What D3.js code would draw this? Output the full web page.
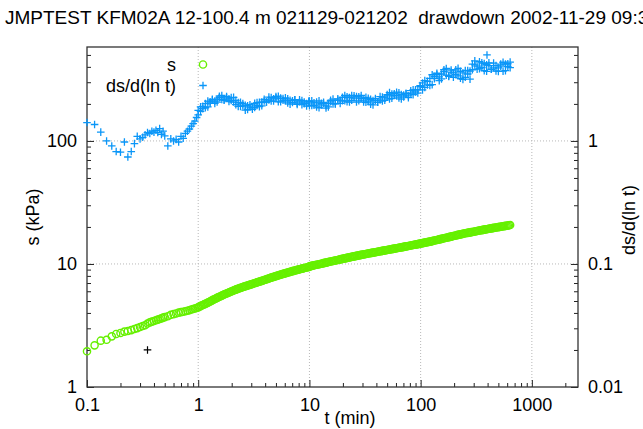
<!DOCTYPE html>
<html><head><meta charset="utf-8">
<script src="https://cdn.jsdelivr.net/npm/d3@7"></script>
<style>
body{margin:0;background:#fff;overflow:hidden;}
svg{display:block;font-family:"Liberation Sans",Arial,Helvetica,sans-serif;}
</style>
</head><body>
<svg id="c" width="643" height="429"></svg>
<script>
// ---- data ----
const titleText = "JMPTEST KFM02A 12-100.4 m 021129-021202  drawdown 2002-11-29 09:30";
const xTicks = [0.1, 1, 10, 100, 1000];
const xTickLabels = ["0.1", "1", "10", "100", "1000"];
const yLeftTicks = [1, 10, 100];
const yLeftTickLabels = ["1", "10", "100"];
const yRightTicks = [0.01, 0.1, 1];
const yRightTickLabels = ["0.01", "0.1", "1"];

// elapsed time, minutes
const tMin = [0.100,0.117,0.133,0.150,0.167,0.183,0.200,0.217,0.233,0.250,0.267,0.283,0.300,0.317,0.333,0.350,0.367,0.383,0.400,0.417,0.433,0.450,0.467,0.483,0.500,0.533,0.567,0.600,0.633,0.667,0.700,0.733,0.767,0.800,0.833,0.867,0.900,0.933,0.967,
1.0,1.05,1.1,1.16,1.22,1.28,1.34,1.41,1.48,1.55,1.63,1.71,1.8,1.89,1.98,2.08,2.18,2.29,2.4,2.52,2.65,2.78,2.92,3.07,3.22,3.38,3.55,3.73,3.92,4.11,4.32,4.53,4.76,5.0,5.25,5.51,5.79,6.08,6.38,6.7,7.04,7.39,7.76,8.15,8.56,8.98,9.43,9.9,
10,10.5,11,11.6,12.2,12.8,13.4,14.1,14.8,15.5,16.3,17.1,18,18.9,19.8,20.8,21.8,22.9,24,25.2,26.5,27.8,29.2,30.7,32.2,33.8,35.5,37.3,39.2,41.1,43.2,45.3,47.6,50,52.5,55.1,57.9,60.8,63.8,67,70.4,73.9,77.6,81.5,85.6,89.8,94.3,99,
104,109,115,121,127,133,140,147,154,162,170,179,188,197,207,217,228,240,252,265,278,292,307,322,338,355,373,392,411,432,453,476,500,525,551,579,608,638];

// drawdown s, kPa (left axis)
const sKPa = [1.95,2.18,2.38,2.42,2.58,2.70,2.75,2.82,2.85,2.90,2.96,3.01,3.07,3.13,3.18,3.28,3.35,3.40,3.44,3.49,3.53,3.57,3.61,3.66,3.70,3.76,3.86,3.91,3.96,4.02,4.06,4.09,4.13,4.17,4.21,4.26,4.30,4.35,4.39,
4.44,4.54,4.64,4.74,4.85,4.96,5.07,5.19,5.30,5.42,5.53,5.65,5.76,5.87,5.98,6.09,6.19,6.29,6.39,6.49,6.59,6.68,6.78,6.88,6.98,7.08,7.18,7.29,7.40,7.51,7.62,7.74,7.85,7.97,8.08,8.19,8.30,8.41,8.52,8.63,8.74,8.84,8.95,9.05,9.16,9.26,9.36,9.46,
9.55,9.65,9.75,9.85,9.95,10.05,10.15,10.25,10.36,10.46,10.57,10.68,10.78,10.89,11.00,11.10,11.21,11.32,11.43,11.53,11.64,11.74,11.85,11.95,12.05,12.16,12.26,12.36,12.46,12.57,12.67,12.78,12.89,12.99,13.10,13.21,13.32,13.43,13.54,13.65,13.77,13.89,14.00,14.12,14.25,14.37,14.50,14.63,
14.76,14.90,15.04,15.19,15.34,15.50,15.66,15.83,16.00,16.17,16.34,16.52,16.69,16.87,17.05,17.22,17.40,17.58,17.76,17.90,18.05,18.21,18.37,18.53,18.69,18.85,19.01,19.17,19.33,19.48,19.63,19.78,19.93,20.08,20.23,20.39,20.55,20.71];

// further readings of the dense s band, at times between those above
const tMinB = [1.02,1.07,1.13,1.19,1.25,1.31,1.37,1.44,1.51,1.59,1.67,1.75,1.84,1.93,2.03,2.13,2.23,2.34,2.46,2.58,2.71,2.85,2.99,3.14,3.30,3.46,3.64,3.82,4.01,4.21,4.42,4.64,4.88,5.12,5.38,5.65,5.93,6.23,6.54,6.87,7.21,7.57,7.95,8.35,8.77,9.20,9.66,
10.2,10.7,11.3,11.9,12.5,13.1,13.7,14.4,15.1,15.9,16.7,17.5,18.4,19.3,20.3,21.3,22.3,23.4,24.6,25.8,27.1,28.5,29.9,31.4,33.0,34.6,36.4,38.2,40.1,42.1,44.2,46.4,48.8,51.2,53.8,56.5,59.3,62.3,65.4,68.7,72.1,75.7,79.5,83.5,87.7,92.0,96.6,
101.5,106.5,112,118,124,130,136.5,143.5,150.5,158,166,174.5,183.5,192.5,202,212,222.5,234,246,258.5,271.5,285,299.5,314.5,330,346.5,364,382.5,401.5,421.5,442.5,464.5,488,512.5,538,565,593.5,623];
const sKPaB = [4.49,4.59,4.69,4.80,4.90,5.01,5.13,5.24,5.36,5.47,5.59,5.70,5.81,5.92,6.03,6.14,6.24,6.34,6.44,6.54,6.63,6.73,6.83,6.93,7.03,7.13,7.23,7.34,7.45,7.56,7.68,7.79,7.91,8.02,8.13,8.24,8.35,8.46,8.57,8.68,8.79,8.89,9.00,9.10,9.21,9.31,9.41,
9.60,9.70,9.80,9.90,10.00,10.10,10.20,10.30,10.41,10.51,10.62,10.73,10.83,10.94,11.05,11.15,11.26,11.37,11.48,11.58,11.69,11.79,11.90,12.00,12.10,12.21,12.31,12.41,12.51,12.62,12.72,12.83,12.94,13.04,13.15,13.26,13.37,13.48,13.59,13.71,13.83,13.94,14.06,14.18,14.31,14.43,14.56,
14.70,14.83,14.97,15.12,15.27,15.42,15.58,15.75,15.92,16.09,16.26,16.43,16.61,16.78,16.96,17.14,17.31,17.49,17.67,17.83,17.98,18.13,18.29,18.45,18.61,18.77,18.93,19.09,19.25,19.41,19.56,19.71,19.86,20.01,20.16,20.31,20.47,20.63];

// derivative ds/d(ln t) (right axis), first reading at each time
const dsdlnt = [1.41,1.36,1.18,1.00,0.91,0.82,0.81,0.98,0.74,0.82,0.95,1.09,1.04,1.07,1.12,1.17,1.15,1.20,1.18,1.22,1.17,1.26,1.13,1.20,1.10,0.91,1.04,1.00,1.03,0.98,1.09,1.05,1.15,1.20,1.25,1.32,1.38,1.45,1.55,
1.77,1.74,1.91,1.86,2.11,2.03,2.15,2.02,2.19,2.31,2.17,2.14,2.29,2.20,2.13,2.26,1.97,2.05,1.91,2.01,1.78,1.93,1.88,1.81,2.02,1.94,2.06,1.93,2.11,2.07,2.27,2.11,2.20,2.29,2.08,2.23,2.14,2.24,2.04,2.14,2.05,2.16,1.98,2.08,2.13,2.01,1.92,2.08,
2.11,1.94,2.04,1.89,2.12,1.96,2.02,1.85,2.02,2.14,2.00,2.00,2.20,2.14,2.12,2.34,2.08,2.25,2.14,2.33,2.07,2.28,2.22,2.07,2.26,2.08,2.18,1.96,2.14,2.06,2.29,2.11,2.24,2.38,2.19,2.41,2.34,2.49,2.24,2.38,2.28,2.43,2.25,2.45,2.60,2.50,2.45,2.77,
2.96,2.72,3.05,2.83,3.45,3.21,3.46,3.09,3.50,3.79,3.42,3.35,3.77,3.57,3.46,3.89,3.23,3.57,3.29,3.73,3.18,4.21,4.15,3.83,4.40,3.94,4.26,3.68,4.10,3.82,4.29,3.70,3.92,4.21,3.69,4.21,4.03,4.37];
// second reading of the dense band, for the times from 1 min on (tMin index 39 onward)
const dsdlntB = [1.63,1.89,1.83,2.01,1.89,2.08,2.18,2.11,2.07,2.25,2.34,2.16,2.24,2.09,2.25,2.07,2.14,1.91,2.06,1.93,1.95,1.80,1.97,1.87,1.87,2.05,1.90,2.07,2.18,2.07,2.15,2.25,2.11,2.24,2.31,2.08,2.21,2.11,2.20,1.99,2.12,2.16,2.03,2.16,1.97,2.07,2.01,2.11,
1.93,2.12,1.95,2.07,1.86,2.02,2.06,1.93,1.89,2.08,2.19,2.01,2.14,2.02,2.26,2.12,2.28,2.07,2.34,2.23,2.29,2.12,2.34,2.15,2.06,2.22,1.99,2.13,2.21,2.06,2.15,2.27,2.14,2.32,2.47,2.22,2.42,2.32,2.46,2.19,2.36,2.43,2.32,2.56,2.38,2.60,2.60,2.82,
2.60,3.09,2.85,3.23,2.87,3.33,3.55,3.31,3.19,3.66,3.88,3.39,3.63,3.29,3.78,3.38,3.68,3.16,3.74,3.50,3.69,3.79,4.47,4.05,3.87,4.31,3.73,4.16,4.31,3.82,3.93,4.10,3.67,4.05,4.36,3.73,4.24,3.94];
const dsOutlierT = [395];
const dsOutlierV = [5.0];

// single black marker
const markT = [0.35];
const markS = [2.0];

// ---- drawing ----
const W = 643, H = 429;
const m = {l: 87, r: 65, t: 47, b: 42};
const x0 = m.l, x1 = W - m.r, y0 = H - m.b, y1 = m.t;
const svg = d3.select("#c");
const green = "#66f000", blue = "#0a96f8";

const x = d3.scaleLog().domain([0.1, 2600]).range([x0, x1]);
const yL = d3.scaleLog().domain([1, 580]).range([y0, y1]);
const yR = d3.scaleLog().domain([0.01, 5.8]).range([y0, y1]);

function minors(lo, hi) {
  const out = [];
  for (let e = Math.floor(Math.log10(lo)); e <= Math.ceil(Math.log10(hi)); e++) {
    for (let k = 2; k <= 9; k++) { const v = k * Math.pow(10, e); if (v > lo && v < hi) out.push(v); }
  }
  return out;
}

// title
svg.append("text").attr("x", 5).attr("y", 24).attr("font-size", 19).attr("fill", "#000")
  .style("white-space", "pre").attr("xml:space", "preserve").text(titleText);

// grid
const grid = svg.append("g").attr("stroke", "#b8b8b8").attr("stroke-width", 1).attr("stroke-dasharray", "1,2");
xTicks.filter(v => v > 0.1).forEach(v => grid.append("line").attr("x1", x(v)).attr("x2", x(v)).attr("y1", y0).attr("y2", y1));
yLeftTicks.filter(v => v > 1).forEach(v => grid.append("line").attr("x1", x0).attr("x2", x1).attr("y1", yL(v)).attr("y2", yL(v)));

// axes
function styleAxis(g) {
  g.select(".domain").remove();
  g.selectAll("line").attr("stroke", "#222").attr("stroke-width", 1);
  g.selectAll("text").attr("font-size", 18).attr("fill", "#000").attr("font-family", "Liberation Sans, Arial, sans-serif");
}
const fmt = (vals, labs) => d => labs[vals.indexOf(d)];
svg.append("g").attr("transform", `translate(0,${y0})`)
  .call(d3.axisBottom(x).tickValues(xTicks).tickFormat(fmt(xTicks, xTickLabels)).tickSize(-7).tickPadding(11)).call(styleAxis);
svg.append("g").attr("transform", `translate(0,${y0})`)
  .call(d3.axisBottom(x).tickValues(minors(0.1, 2600)).tickFormat("").tickSize(-4)).call(styleAxis);
svg.append("g").attr("transform", `translate(${x0},0)`)
  .call(d3.axisLeft(yL).tickValues(yLeftTicks).tickFormat(fmt(yLeftTicks, yLeftTickLabels)).tickSize(-7).tickPadding(10)).call(styleAxis);
svg.append("g").attr("transform", `translate(${x0},0)`)
  .call(d3.axisLeft(yL).tickValues(minors(1, 580)).tickFormat("").tickSize(-4)).call(styleAxis);
svg.append("g").attr("transform", `translate(${x1},0)`)
  .call(d3.axisRight(yR).tickValues(yRightTicks).tickFormat(fmt(yRightTicks, yRightTickLabels)).tickSize(-7).tickPadding(10)).call(styleAxis);
svg.append("g").attr("transform", `translate(${x1},0)`)
  .call(d3.axisRight(yR).tickValues(minors(0.01, 5.8)).tickFormat("").tickSize(-4)).call(styleAxis);

// border
svg.append("rect").attr("x", x0).attr("y", y1).attr("width", x1 - x0).attr("height", y0 - y1)
  .attr("fill", "none").attr("stroke", "#333").attr("stroke-width", 1.3);

// axis titles
svg.append("text").attr("transform", `translate(39,217) rotate(-90)`).attr("text-anchor", "middle")
  .attr("font-size", 18).text("s (kPa)");
svg.append("text").attr("transform", `translate(635,220) rotate(-90)`).attr("text-anchor", "middle")
  .attr("font-size", 18).text("ds/d(ln t)");
svg.append("text").attr("x", 350).attr("y", 424).attr("text-anchor", "middle").attr("font-size", 18).text("t (min)");

// data
const plus = "M-3.8,0H3.8M0,-3.8V3.8";
const sData = tMin.map((t, i) => [t, sKPa[i]]).concat(tMinB.map((t, i) => [t, sKPaB[i]]));
const dData = tMin.map((t, i) => [t, dsdlnt[i]])
  .concat(dsdlntB.map((v, i) => [tMin[39 + i], v]))
  .concat(dsOutlierT.map((t, i) => [t, dsOutlierV[i]]));

svg.append("g").selectAll("path").data(dData).join("path")
  .attr("transform", d => `translate(${x(d[0])},${yR(d[1])})`).attr("d", plus)
  .attr("stroke", blue).attr("stroke-width", 1.3).attr("fill", "none");
svg.append("g").selectAll("circle").data(sData).join("circle")
  .attr("cx", d => x(d[0])).attr("cy", d => yL(d[1])).attr("r", 3.6)
  .attr("fill", "none").attr("stroke", green).attr("stroke-width", 1.4);
svg.append("g").selectAll("path").data(markT.map((t, i) => [t, markS[i]])).join("path")
  .attr("transform", d => `translate(${x(d[0])},${yL(d[1])})`).attr("d", plus)
  .attr("stroke", "#000").attr("stroke-width", 1.2);

// legend
svg.append("text").attr("x", 176).attr("y", 71).attr("text-anchor", "end").attr("font-size", 18).text("s");
svg.append("circle").attr("cx", 203).attr("cy", 64.5).attr("r", 3.6).attr("fill", "none").attr("stroke", green).attr("stroke-width", 1.4);
svg.append("text").attr("x", 176).attr("y", 92).attr("text-anchor", "end").attr("font-size", 18).text("ds/d(ln t)");
svg.append("path").attr("transform", "translate(203,85.5)").attr("d", plus).attr("stroke", blue).attr("stroke-width", 1.3);
</script>
</body></html>
